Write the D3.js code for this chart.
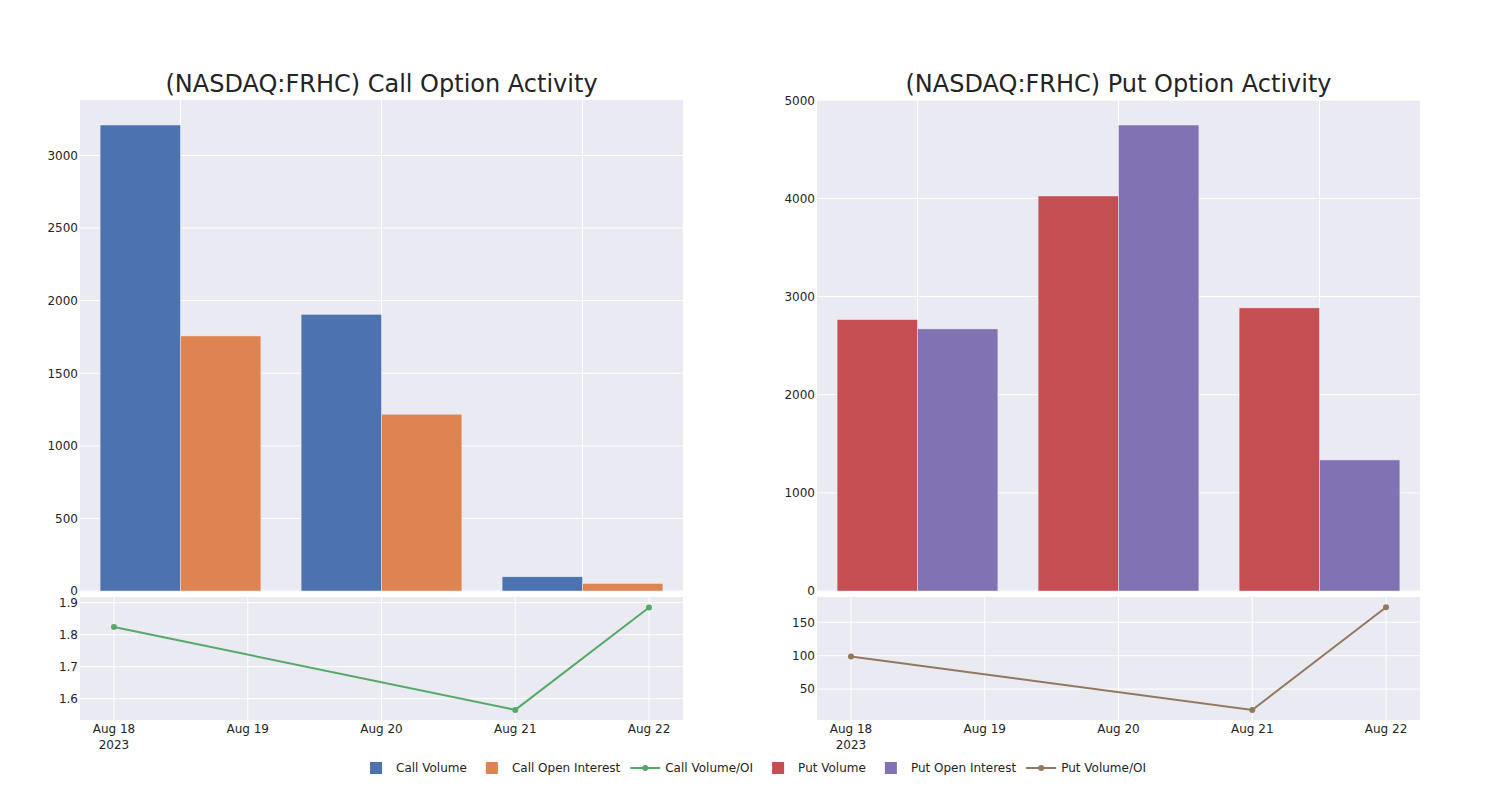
<!DOCTYPE html>
<html>
<head>
<meta charset="utf-8">
<script src="https://cdn.jsdelivr.net/npm/d3@7"></script>
<style>
  html, body { margin: 0; padding: 0; background: #fff; }
  svg { display: block; font-family: "DejaVu Sans", sans-serif; }
</style>
</head>
<body>
<svg id="chart" width="1500" height="800"></svg>
<script>
// ---- data ----
const dates = ["2023-08-18", "2023-08-21", "2023-08-22"];
const callVolume = [3210, 1906, 98];
const callOpenInterest = [1757, 1218, 52];
const callRatio = [1.824, 1.565, 1.885];
const putVolume = [2765, 4024, 2884];
const putOpenInterest = [2670, 4747, 1335];
const putRatio = [98.6, 18.7, 172.4];
const callTicks = [0, 500, 1000, 1500, 2000, 2500, 3000];
const putTicks = [0, 1000, 2000, 3000, 4000, 5000];
const callRatioTicks = [1.6, 1.7, 1.8, 1.9];
const putRatioTicks = [50, 100, 150];
const dayTicks = ["2023-08-18", "2023-08-19", "2023-08-20", "2023-08-21", "2023-08-22"];
const titles = ["(NASDAQ:FRHC) Call Option Activity", "(NASDAQ:FRHC) Put Option Activity"];
const legendItems = [
  {name: "Call Volume", type: "bar", color: "#4C72B0"},
  {name: "Call Open Interest", type: "bar", color: "#DD8452"},
  {name: "Call Volume/OI", type: "line", color: "#55A868"},
  {name: "Put Volume", type: "bar", color: "#C44E52"},
  {name: "Put Open Interest", type: "bar", color: "#8172B3"},
  {name: "Put Volume/OI", type: "line", color: "#937860"}
];

const svg = d3.select("#chart");
const BG = "#EAEAF2", TXT = "#242424";
const parse = d3.timeParse("%Y-%m-%d");
const DAY = 864e5;

function panel(opts) {
  const {x0, x1, yTop, yMid, yBotTop, yBot, vol, oi, ratio, volColor, oiColor, lineColor, ticks, ratioTicks, ratioDomain, title} = opts;
  const g = svg.append("g");
  // top bar plot
  g.append("rect").attr("x", x0).attr("y", yTop).attr("width", x1 - x0).attr("height", yMid - yTop).attr("fill", BG);
  const xb = d3.scaleBand().domain(dates).range([x0, x1]).paddingInner(0.2).paddingOuter(0.1);
  const yb = d3.scaleLinear().domain([0, d3.max(vol.concat(oi)) * 1.0537]).range([yMid, yTop]);
  g.selectAll(".hg").data(ticks).enter().append("line")
    .attr("x1", x0).attr("x2", x1).attr("y1", d => yb(d)).attr("y2", d => yb(d))
    .attr("stroke", "#fff").attr("stroke-width", 1);
  g.selectAll(".vg").data(dates).enter().append("line")
    .attr("x1", d => xb(d) + xb.bandwidth() / 2).attr("x2", d => xb(d) + xb.bandwidth() / 2)
    .attr("y1", yTop).attr("y2", yMid).attr("stroke", "#fff").attr("stroke-width", 1);
  const half = xb.bandwidth() / 2;
  g.selectAll(".bv").data(dates).enter().append("rect")
    .attr("x", d => xb(d)).attr("width", half)
    .attr("y", (d, i) => yb(vol[i])).attr("height", (d, i) => yb(0) - yb(vol[i]))
    .attr("fill", volColor).attr("stroke", BG).attr("stroke-width", 0.5);
  g.selectAll(".bo").data(dates).enter().append("rect")
    .attr("x", d => xb(d) + half).attr("width", half)
    .attr("y", (d, i) => yb(oi[i])).attr("height", (d, i) => yb(0) - yb(oi[i]))
    .attr("fill", oiColor).attr("stroke", BG).attr("stroke-width", 0.5);
  const ya = g.append("g").attr("transform", `translate(${x0 - 1},0)`)
    .call(d3.axisLeft(yb).tickValues(ticks).tickSize(0).tickPadding(1).tickFormat(d3.format("d")));
  ya.select(".domain").remove();
  ya.selectAll("text").attr("fill", TXT).style("font-size", "12px").style("font-family", "DejaVu Sans");

  // bottom line plot
  g.append("rect").attr("x", x0).attr("y", yBotTop).attr("width", x1 - x0).attr("height", yBot - yBotTop).attr("fill", BG);
  const d0 = parse(dates[0]), d1 = parse(dates[dates.length - 1]);
  const xt = d3.scaleTime().domain([new Date(+d0 - 0.254 * DAY), new Date(+d1 + 0.254 * DAY)]).range([x0, x1]);
  const yl = d3.scaleLinear().domain(ratioDomain).range([yBot, yBotTop]);
  g.selectAll(".lhg").data(ratioTicks).enter().append("line")
    .attr("x1", x0).attr("x2", x1).attr("y1", d => yl(d)).attr("y2", d => yl(d))
    .attr("stroke", "#fff").attr("stroke-width", 1);
  g.selectAll(".lvg").data(dayTicks).enter().append("line")
    .attr("x1", d => xt(parse(d))).attr("x2", d => xt(parse(d)))
    .attr("y1", yBotTop).attr("y2", yBot).attr("stroke", "#fff").attr("stroke-width", 1);
  const pts = dates.map((d, i) => [xt(parse(d)), yl(ratio[i])]);
  g.append("path").attr("d", d3.line()(pts)).attr("fill", "none")
    .attr("stroke", lineColor).attr("stroke-width", 2);
  g.selectAll(".pt").data(pts).enter().append("circle")
    .attr("cx", d => d[0]).attr("cy", d => d[1]).attr("r", 3).attr("fill", lineColor);
  const yla = g.append("g").attr("transform", `translate(${x0 - 1},0)`)
    .call(d3.axisLeft(yl).tickValues(ratioTicks).tickSize(0).tickPadding(1).tickFormat(d => String(d)));
  yla.select(".domain").remove();
  yla.selectAll("text").attr("fill", TXT).style("font-size", "12px").style("font-family", "DejaVu Sans");
  const fmt = d3.timeFormat("%b %d");
  const xa = g.append("g");
  dayTicks.forEach((d, i) => {
    const t = xa.append("text").attr("x", xt(parse(d))).attr("y", yBot + 13)
      .attr("text-anchor", "middle").attr("fill", TXT).style("font-size", "12px");
    t.append("tspan").attr("x", xt(parse(d))).attr("dy", 0).text(fmt(parse(d)));
    if (i === 0) t.append("tspan").attr("x", xt(parse(d))).attr("dy", 16).text("2023");
  });

  g.append("text").attr("x", (x0 + x1) / 2).attr("y", 92).attr("text-anchor", "middle")
    .attr("fill", TXT).style("font-size", "24px").text(title);
}

panel({x0: 80, x1: 683, yTop: 100, yMid: 591, yBotTop: 597, yBot: 720,
  vol: callVolume, oi: callOpenInterest, ratio: callRatio,
  volColor: "#4C72B0", oiColor: "#DD8452", lineColor: "#55A868",
  ticks: callTicks, ratioTicks: callRatioTicks, ratioDomain: [1.5334, 1.9177], title: titles[0]});
panel({x0: 817, x1: 1420, yTop: 100, yMid: 591, yBotTop: 597, yBot: 720,
  vol: putVolume, oi: putOpenInterest, ratio: putRatio,
  volColor: "#C44E52", oiColor: "#8172B3", lineColor: "#937860",
  ticks: putTicks, ratioTicks: putRatioTicks, ratioDomain: [3.7, 187.8], title: titles[1]});

// legend
const lg = svg.append("g");
let cx = 0;
legendItems.forEach(it => {
  const gi = lg.append("g").attr("transform", `translate(${cx},0)`);
  if (it.type === "bar") {
    gi.append("rect").attr("x", 14).attr("y", -6).attr("width", 12).attr("height", 12).attr("fill", it.color);
  } else {
    gi.append("line").attr("x1", 5).attr("x2", 35).attr("y1", 0).attr("y2", 0).attr("stroke", it.color).attr("stroke-width", 2);
    gi.append("circle").attr("cx", 20).attr("cy", 0).attr("r", 3).attr("fill", it.color);
  }
  const t = gi.append("text").attr("x", 40).attr("y", 0).attr("dy", "0.35em")
    .attr("fill", TXT).style("font-size", "12px").text(it.name);
  const w = t.node().getComputedTextLength();
  cx += 40 + w + 5;
});
const totalW = cx - 5;
lg.attr("transform", `translate(${751 - totalW / 2},768)`);
</script>
</body>
</html>
